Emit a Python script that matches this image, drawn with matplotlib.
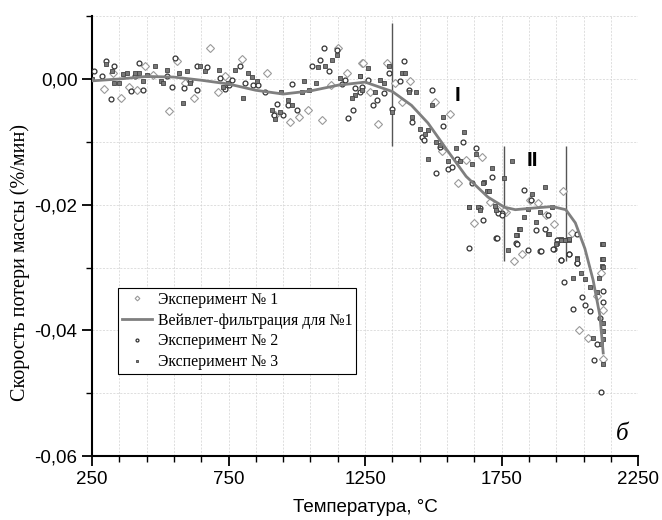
import matplotlib
matplotlib.use("Agg")
import matplotlib.pyplot as plt
import numpy as np

# Эксперимент № 1 (ромбы)
x1 = [682, 444, 294, 355, 414, 533, 563, 624, 713, 743, 475, 328, 591, 387,
      801, 890, 1040, 1008, 975, 1094, 1152, 1183, 1240, 1126, 737, 920,
      1241, 1329, 1415, 1360, 1384, 1299, 1506, 1561, 1531, 1620, 1677, 1592, 1706, 1268,
      1649, 1738, 1766, 1976, 1885, 1854, 1912, 1943, 2007, 1826, 1797, 1760,
      2113, 2123, 2035, 2068, 2123, 2099]
y1 = [0.0050, 0.0020, -0.0016, -0.0031, -0.0018, -0.0051, 0.0028, -0.0030, -0.0020, 0.0001, 0.0007, 0.0010, -0.0007, -0.0013,
      0.0031, 0.0009, -0.0050, -0.0061, -0.0068, -0.0066, 0.0049, 0.0009, 0.0026, -0.0010, 0.0004, -0.0057,
      0.0026, 0.0025, -0.0004, -0.0007, -0.0037, -0.0071, -0.0037, -0.0055, -0.0114, -0.0129, -0.0124, -0.0166, -0.0196, -0.0020,
      -0.0229, -0.0209, -0.0211, -0.0179, -0.0198, -0.0192, -0.0216, -0.0230, -0.0245, -0.0278, -0.0290, -0.0210,
      -0.0309, -0.0368, -0.0399, -0.0412, -0.0446, -0.0346]

# Эксперимент № 2 (кружки)
x2 = [257, 301, 331, 423, 318, 392, 436, 554, 526, 542, 587, 607, 633, 670, 719, 737, 634, 408, 285,
      1101, 1146, 1057, 1085, 1116, 792, 810, 841, 859, 884, 927, 969, 1000, 951, 918, 984, 1165, 1177, 1213, 1205, 1189, 750, 762,
      1393, 1336, 1378, 1320, 1293, 1278, 1262, 1494, 1409, 1348, 1421, 1537, 1458, 1466, 1525, 1586, 1510, 1555, 1567, 1610, 1657,
      1641, 1714, 1232, 1238,
      1683, 1730, 1629, 1669, 1751, 1803,
      1833, 1858, 1875, 1907, 1919, 1958, 1805, 1846, 1891, 1940, 1997, 1968, 2025, 1732, 1738, 1750,
      1952, 1893, 1937, 1967, 1995, 2025, 1979, 2044, 2056, 2074, 2011, 2123, 2123, 2111, 2101, 2089, 2113, 2025]
y2 = [0.0012, 0.0028, 0.0021, 0.0026, -0.0032, -0.0019, -0.0017, 0.0034, 0.0004, -0.0012, -0.0015, -0.0003, 0.0020, 0.0019, 0.0001, -0.0016, -0.0017, 0.0004, 0.0004,
      0.0049, 0.0046, 0.0021, 0.0030, 0.0013, 0.0020, -0.0007, -0.0009, -0.0010, -0.0020, -0.0040, -0.0041, -0.0050, -0.0058, -0.0058, -0.0008, -0.0008, -0.0002, -0.0015, -0.0050, -0.0062, -0.0010, -0.0002,
      0.0029, 0.0010, -0.0004, -0.0023, -0.0034, -0.0041, -0.0002, -0.0017, -0.0017, -0.0048, -0.0069, -0.0075, -0.0092, -0.0097, -0.0108, -0.0128, -0.0149, -0.0143, -0.0140, -0.0101, -0.0110,
      -0.0166, -0.0156, -0.0020, -0.0012,
      -0.0225, -0.0253, -0.0269, -0.0205, -0.0214, -0.0261,
      -0.0176, -0.0193, -0.0241, -0.0238, -0.0217, -0.0256, -0.0262, -0.0272, -0.0274, -0.0271, -0.0279, -0.0288, -0.0293, -0.0253, -0.0213, -0.0216,
      -0.0257, -0.0273, -0.0270, -0.0288, -0.0279, -0.0293, -0.0323, -0.0347, -0.0359, -0.0370, -0.0366, -0.0338, -0.0355, -0.0380, -0.0422, -0.0447, -0.0498, -0.0246]

# Эксперимент № 3 (квадраты)
x3 = [249, 301, 481, 526, 570, 599, 646, 662, 716, 365, 408, 423, 453, 331, 347, 501, 509, 436, 377, 585, 609, 731, 749, 322,
      774, 820, 837, 853, 804, 942, 967, 981, 908, 939, 920, 1028, 1069, 1018, 1043, 1104, 1128, 1146, 1159, 1232, 1213, 1201, 1240, 1079,
      1262, 1232, 1305, 1320, 1287, 1336, 1384, 1397, 1409, 1437, 1494, 1421, 1537, 1452, 1470, 1482, 1510, 1525, 1583, 1613, 1598,
      1552, 1482, 1641, 1657, 1714, 1686, 1696, 1348, 1629, 1665,
      1683, 1702, 1757, 1629, 1669, 1730, 1787, 1775, 1805, 1815,
      1907, 1860, 1846, 1891, 1936, 1833, 1875, 1818, 1919, 1802, 1952, 1968, 1982, 1995, 2025, 2119, 2119, 2119, 1726,
      1922, 1950, 1967, 1983, 1998, 2123, 2025, 2123, 2123, 2040, 2011, 2056, 2074, 2105, 2101, 2121, 2123, 2121, 2086, 2113, 2123]
y3 = [0.0000, 0.0024, 0.0020, 0.0014, 0.0010, 0.0012, 0.0021, 0.0013, 0.0014, 0.0008, 0.0009, 0.0010, 0.0006, -0.0006, -0.0007, -0.0004, -0.0006, -0.0004, 0.0009, -0.0039, -0.0006, -0.0012, -0.0007, 0.0012,
      0.0014, 0.0010, 0.0003, -0.0004, -0.0031, -0.0020, -0.0033, -0.0041, -0.0049, -0.0052, -0.0064, -0.0004, -0.0007, -0.0020, -0.0018, 0.0021, 0.0030, 0.0038, 0.0002, 0.0004, -0.0025, -0.0031, -0.0017, 0.0019,
      0.0017, 0.0004, -0.0002, -0.0006, -0.0020, 0.0021, 0.0009, 0.0009, -0.0020, -0.0020, -0.0041, -0.0061, -0.0060, -0.0079, -0.0087, -0.0082, -0.0101, -0.0105, -0.0110, -0.0085, -0.0131,
      -0.0131, -0.0127, -0.0136, -0.0119, -0.0142, -0.0164, -0.0179, -0.0052, -0.0204, -0.0204,
      -0.0165, -0.0179, -0.0158, -0.0204, -0.0208, -0.0208, -0.0131, -0.0272, -0.0249, -0.0239,
      -0.0172, -0.0183, -0.0207, -0.0211, -0.0203, -0.0220, -0.0228, -0.0238, -0.0246, -0.0249, -0.0261, -0.0254, -0.0257, -0.0256, -0.0285, -0.0262, -0.0286, -0.0298, -0.0202,
      -0.0246, -0.0262, -0.0256, -0.0257, -0.0255, -0.0262, -0.0286, -0.0286, -0.0299, -0.0309, -0.0316, -0.0319, -0.0331, -0.0316, -0.0339, -0.0388, -0.0401, -0.0413, -0.0412, -0.0422, -0.0454]

# Вейвлет-фильтрация для №1
xf = [250, 350, 450, 550, 650, 750, 850, 950, 1050, 1150, 1250, 1350, 1420, 1480, 1550, 1620,
      1700, 1760, 1800, 1850, 1935, 1985, 2020, 2055, 2085, 2110, 2122]
yf = [-0.0003, 0.0, 0.0004, 0.0003, -0.0002, -0.0008, -0.0018, -0.0024, -0.0019, -0.0010, -0.0005,
      -0.0020, -0.0042, -0.0070, -0.0113, -0.0155, -0.0188, -0.0204, -0.0208, -0.0206, -0.0203,
      -0.0208, -0.0229, -0.0270, -0.0320, -0.0377, -0.0436]

# границы стадий
stage_x = [1350, 1760, 1985]
stage_ylo = [-0.0106, -0.029, -0.029]
stage_yhi = [0.0089, -0.0106, -0.0106]

fig = plt.figure(figsize=(6.62, 5.2), dpi=100)
ax = fig.add_axes([0.139, 0.123, 0.825, 0.846])

ax.set_xlim(250, 2250)
ax.set_ylim(-0.06, 0.01)
ax.set_xticks([250, 750, 1250, 1750, 2250])
ax.set_xticks(np.arange(350, 2250, 100), minor=True)
ax.set_yticks([-0.06, -0.04, -0.02, 0.0])
ax.set_yticks([-0.05, -0.03, -0.01, 0.01], minor=True)
ax.set_yticklabels(["-0,06", "-0,04", "-0,02", "0,00"])
ax.grid(True, which="both", color="#d2d2d2", linestyle="--", linewidth=0.5, dashes=(3, 2))
ax.set_axisbelow(True)

for s in ["top", "right"]:
    ax.spines[s].set_visible(False)
for s in ["left", "bottom"]:
    ax.spines[s].set_linewidth(1.5)
ax.tick_params(which="major", direction="out", length=7, width=1.3, labelsize=13.5,
               labelfontfamily="Liberation Sans")
ax.tick_params(which="minor", direction="out", length=4, width=1.0)

ax.vlines(stage_x, stage_ylo, stage_yhi, color="#555555", linewidth=1.0, zorder=2)

ax.plot(x1, y1, linestyle="none", marker="D", markersize=4, markerfacecolor="white",
        markeredgecolor="#9a9a9a", markeredgewidth=0.8, label="Эксперимент № 1", zorder=3)
ax.plot(xf, yf, color="#7f7f7f", linewidth=2.0, label="Вейвлет-фильтрация для №1", zorder=5)
ax.plot(x2, y2, linestyle="none", marker="o", markersize=3.5, markerfacecolor="white",
        markeredgecolor="#333333", markeredgewidth=0.9, label="Эксперимент № 2", zorder=4)
ax.plot(x3, y3, linestyle="none", marker="s", markersize=3.5, markerfacecolor="#777777",
        markeredgecolor="#444444", markeredgewidth=0.6, label="Эксперимент № 3", zorder=4)

ax.text(1587, -0.0027, "I", fontsize=15, fontweight="bold", family="Liberation Sans",
        ha="center", va="center")
ax.text(1862, -0.0129, "II", fontsize=15, fontweight="bold", family="Liberation Sans",
        ha="center", va="center")
ax.text(2190, -0.0565, "б", fontsize=18, style="italic", family="Liberation Serif",
        ha="center", va="center")

leg = ax.legend(loc="upper left", bbox_to_anchor=(0.048, 0.382), borderaxespad=0,
                frameon=True, fancybox=False, edgecolor="black", framealpha=1,
                borderpad=0.25, labelspacing=0.3, handlelength=1.9, handletextpad=0.35,
                markerscale=0.6, prop={"family": "Liberation Serif", "size": 11.4})
leg.get_frame().set_linewidth(0.8)

ax.set_xlabel("Температура, °C", fontsize=13.5, family="Liberation Sans", labelpad=8)
ax.set_ylabel("Скорость потери массы (%/мин)", fontsize=14.5, family="Liberation Serif")
ax.yaxis.set_label_coords(-0.114, 0.44)

fig.savefig("out.png", dpi=100)
